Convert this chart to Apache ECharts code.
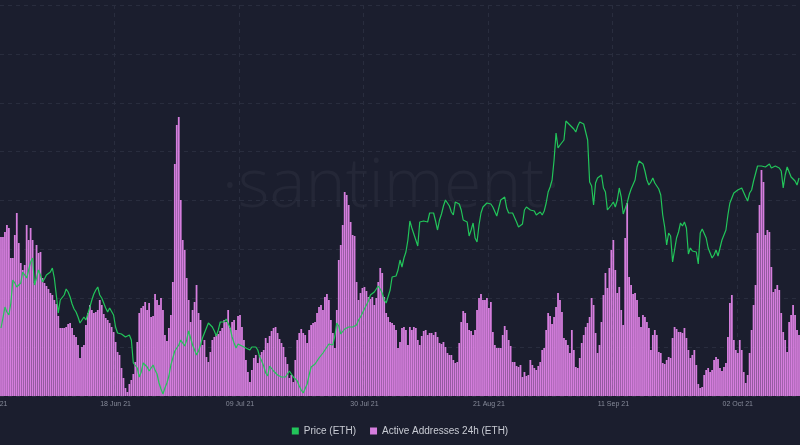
<!DOCTYPE html>
<html><head><meta charset="utf-8">
<script src="https://cdn.jsdelivr.net/npm/echarts@6.0.0/dist/echarts.min.js"></script>
<style>html,body{margin:0;padding:0;background:#1b1e2e;}#c{width:800px;height:445px;}</style>
</head><body><div id="c"></div>
<script>
// 8-hour samples starting 29 May 2021 16:00 UTC
const startUTC = Date.UTC(2021, 4, 29, 16);
const stepHours = 8;

// Active addresses 24h (thousands)
const activeAddressesK = [
618,618,628,642,636,576,576,622,666,606,
566,552,562,642,612,636,612,526,602,586,
588,536,526,520,514,506,502,492,484,460,
436,436,436,438,444,446,436,422,418,402,
376,398,402,442,466,482,472,466,468,472,
492,482,464,456,452,446,438,428,408,388,
382,356,336,316,308,324,332,344,368,408,
466,476,480,488,472,486,458,460,504,492,
482,496,472,422,410,436,462,528,764,842,
858,692,612,592,536,492,448,472,488,522,
466,452,402,412,378,368,388,412,418,422,
424,430,436,452,448,472,436,448,452,432,
460,462,438,412,372,348,328,352,376,382,
366,382,388,392,416,406,420,430,436,438,
426,414,406,398,378,364,336,342,328,372,
412,426,434,426,422,406,432,442,446,448,
466,478,482,472,498,504,492,452,426,396,
472,572,602,642,708,702,682,648,622,620,
528,492,506,516,518,510,498,494,498,482,
496,528,556,546,498,466,458,448,446,442,
432,396,408,436,438,432,402,438,432,438,
436,412,402,420,430,432,422,426,426,422,
428,418,406,404,408,398,386,382,382,372,
366,368,406,448,470,466,446,432,430,422,
432,472,496,504,492,492,496,476,488,428,
402,396,396,396,422,440,432,412,400,368,
368,360,358,362,338,348,340,342,372,362,
356,352,360,368,392,396,432,466,460,444,
458,478,506,492,468,416,412,402,386,432,
392,358,356,376,406,422,438,446,458,496,
482,426,386,402,448,502,546,516,556,592,
612,552,506,518,472,442,616,686,538,522,
504,506,492,458,438,462,458,448,436,392,
422,432,422,388,386,366,364,372,378,376,
416,438,434,428,428,426,436,416,392,376,
382,392,362,324,316,318,342,352,356,348,
352,372,378,374,356,350,358,366,418,486,
502,412,392,386,412,392,348,326,342,386,
432,482,522,626,682,752,728,622,632,628,
558,508,514,522,512,466,428,412,388,448,
462,482,462,432,422
];

// ETH price (USD)
const priceETH = [
2234,2314,2402,2362,2338,2434,2618,2594,2562,2578,
2594,2682,2682,2634,2698,2762,2794,2578,2634,2698,
2658,2602,2626,2658,2666,2682,2714,2634,2498,2354,
2458,2474,2498,2546,2522,2482,2426,2386,2362,2322,
2274,2298,2322,2298,2314,2402,2458,2506,2538,2562,
2498,2474,2458,2394,2362,2394,2378,2338,2242,2194,
2178,2186,2194,2162,2146,2178,2138,1954,1938,1914,
1842,1882,1954,1938,1922,1890,1914,1938,1898,1866,
1794,1746,1706,1754,1794,1850,1938,1994,2050,2074,
2098,2138,2154,2090,2138,2210,2218,2098,2058,2018,
2050,2098,2154,2194,2234,2274,2266,2242,2210,2170,
2218,2282,2274,2282,2306,2290,2234,2162,2114,2074,
2106,2114,2090,2082,2074,2074,2058,2082,2098,2082,
2058,2002,1970,1930,1874,1850,1930,1922,1890,1874,
1858,1842,1842,1834,1842,1850,1890,1874,1842,1826,
1810,1770,1738,1714,1730,1786,1858,1922,1930,1946,
1970,1994,2010,2034,2058,2082,2106,2122,2098,2170,
2274,2250,2186,2178,2226,2242,2242,2242,2242,2250,
2258,2298,2322,2338,2386,2402,2450,2498,2514,2522,
2538,2570,2546,2514,2458,2434,2418,2538,2642,2634,
2650,2698,2778,2722,2794,2842,2938,3090,3034,2986,
2970,2890,3082,3098,3090,3074,3082,3154,3170,3154,
3090,3018,3098,3146,3210,3258,3234,3210,3162,3138,
3242,3258,3226,3178,3098,3106,3082,2970,3018,3074,
2954,2922,3058,3154,3202,3218,3234,3234,3226,3202,
3202,3130,3194,3258,3274,3282,3194,3154,3138,3154,
3162,3082,3042,3042,3066,3178,3202,3186,3178,3178,
3170,3138,3122,3162,3138,3170,3234,3322,3362,3418,
3578,3794,3674,3698,3714,3738,3890,3882,3858,3842,
3826,3802,3850,3882,3874,3866,3858,3738,3402,3370,
3218,3394,3434,3450,3458,3354,3322,3178,3194,3218,
3242,3202,3258,3354,3282,3146,3154,3234,3298,3346,
3338,3418,3522,3570,3562,3546,3490,3418,3378,3402,
3434,3394,3378,3346,3298,3138,3042,2898,2994,2970,
2762,2858,2954,3002,3074,3050,3082,3034,2826,2874,
2850,2866,2842,2746,2994,3026,3026,2954,2874,2834,
2794,2818,2858,2810,2874,2938,2946,3018,3138,3234,
3226,3314,3330,3338,3346,3354,3354,3282,3250,3314,
3338,3410,3402,3530,3530,3530,3546,3522,3538,3546,
3514,3522,3530,3522,3514,3490,3354,3458,3522,3482,
3442,3434,3410,3378,3434
];

// x-axis tick labels and the sample index where each sits
const tickIndices = [58, 121, 184, 247, 310, 373];
const tickLabels = ['18 Jun 21', '09 Jul 21', '30 Jul 21', '21 Aug 21', '11 Sep 21', '02 Oct 21'];
const cutTickLabel = '28 May 21';
const cutTickIndexOffset = -5;

const categories = activeAddressesK.map((_, i) =>
  new Date(startUTC + i * stepHours * 3600e3).toISOString().slice(0, 16).replace('T', ' '));
const labelMap = {};
tickIndices.forEach((idx, k) => { labelMap[idx] = tickLabels[k]; });
const isTick = (index) => labelMap[index] !== undefined;

const BG = '#1b1e2e';
const GRID = '#292d3e';
const FONT = 'Liberation Sans, Arial, sans-serif';

const chart = echarts.init(document.getElementById('c'), null, { renderer: 'canvas' });
chart.setOption({
  backgroundColor: BG,
  animation: false,
  grid: { left: 0, right: 0, top: 5, bottom: 49 },
  legend: {
    data: ['Price (ETH)', 'Active Addresses 24h (ETH)'],
    left: 'center', top: 421,
    icon: 'rect', itemWidth: 7, itemHeight: 7, itemGap: 14,
    textStyle: { color: '#c9ccd4', fontSize: 10, fontFamily: FONT }
  },
  xAxis: {
    type: 'category', data: categories, boundaryGap: true,
    axisLine: { show: false }, axisTick: { show: false, interval: isTick },
    axisLabel: {
      interval: isTick, formatter: (v, i) => labelMap[i] || '',
      color: '#868a99', fontSize: 7, margin: 5, fontFamily: FONT
    },
    splitLine: { show: true, interval: isTick, lineStyle: { color: GRID, type: [4, 4], width: 1 } }
  },
  yAxis: [
    { type: 'value', min: 300, max: 1082, show: false },
    { type: 'value', min: 1690, max: 4818, show: false },
    { type: 'value', min: 0, max: 8, interval: 1,
      axisLine: { show: false }, axisTick: { show: false }, axisLabel: { show: false },
      splitLine: { show: true, lineStyle: { color: GRID, type: [4, 4], width: 1 } } }
  ],
  graphic: [{
    type: 'text', silent: true, z: 0,
    x: 391, y: 188,
    style: { text: '·santiment·', fill: 'rgba(255,255,255,0.045)',
      fontSize: 68, fontWeight: 300, fontFamily: '"Open Sans", sans-serif',
      align: 'center', verticalAlign: 'middle' }
  }],
  series: [
    { name: 'Active Addresses 24h (ETH)', type: 'bar', data: activeAddressesK, yAxisIndex: 0,
      barCategoryGap: '10%', itemStyle: { color: '#d67ede' },
      silent: true, z: 2 },
    { name: 'Price (ETH)', type: 'line', data: priceETH, yAxisIndex: 1,
      showSymbol: false, symbol: 'none', lineStyle: { width: 1.2, color: '#22c55a' },
      itemStyle: { color: '#22c55a' }, silent: true, z: 3 }
  ]
});

// partially visible first tick label, placed one tick-step before the first sample
const x0 = chart.convertToPixel({ xAxisIndex: 0 }, categories[0]);
const band = chart.convertToPixel({ xAxisIndex: 0 }, categories[1]) - x0;
chart.setOption({
  graphic: [{}, {
    type: 'text', silent: true,
    x: x0 + cutTickIndexOffset * band, y: 401,
    style: { text: cutTickLabel, fill: '#868a99', fontSize: 7, fontFamily: FONT, align: 'center', verticalAlign: 'top' }
  }]
});
</script>
</body></html>
